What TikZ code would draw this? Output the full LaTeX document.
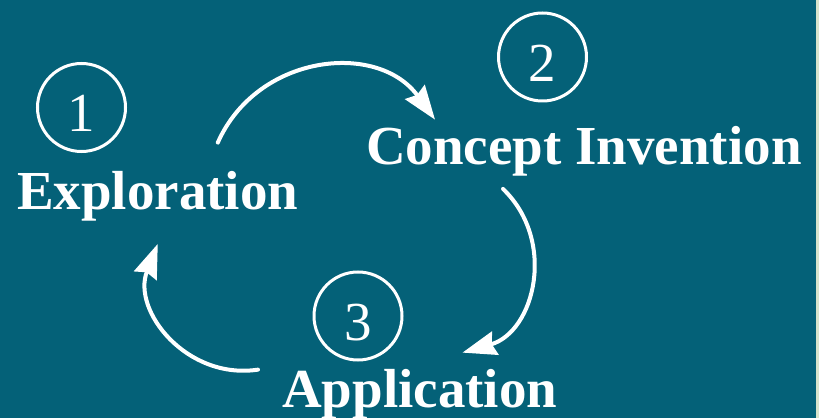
\documentclass[tikz,border=0pt]{standalone}
\usepackage{fontspec}
\setmainfont{Liberation Serif}
\usepackage{tikz}
\usetikzlibrary{arrows.meta}

\definecolor{slateteal}{RGB}{4,97,120}
\definecolor{paleedge}{RGB}{216,228,204}

\begin{document}
\begin{tikzpicture}[x=1pt, y=1pt]
    % Styles
    \tikzstyle{stage} = [text=white, font=\bfseries\fontsize{55}{60}\selectfont, inner sep=0pt, anchor=base west]
    \tikzstyle{num} = [circle, draw=white, line width=3pt, minimum size=88pt, inner sep=0pt, text=white, font=\fontsize{55}{60}\selectfont, text height=49pt, text depth=0pt]
    \tikzstyle{loopline} = [draw=white, line width=4pt, line cap=round, -{Stealth[length=34pt, width=24pt, inset=3.5pt]}, bend left=60, looseness=1.14]

    % --- BACKGROUND ---
    \fill[paleedge] (0,0) rectangle (819,418);
    \fill[slateteal] (0,0) rectangle (816,418);
    \useasboundingbox (0,0) rectangle (819,418);

    % --- STAGES ---
    \node [stage] (expl) at (17,208) {Exploration};
    \node [stage] (concept) at (366,253) {Concept Invention};
    \node [stage] (appl) at (282,11) {Application};

    % --- NUMBERS ---
    \node [num] (n1) at (81.5,310.5) {1};
    \node [num] (n2) at (542.5,361) {2};
    \node [num] (n3) at (358,102) {3};

    % --- CYCLE ---
    \draw [loopline] ([xshift=60pt, yshift=29pt]expl.north) to ([xshift=69pt, yshift=7pt]concept.north west);
    \draw [loopline] ([xshift=137pt, yshift=-12pt]concept.south west) to ([xshift=-95pt, yshift=16pt]appl.north east);
    \draw [loopline] ([xshift=-24pt, yshift=-1pt]appl.north west) to ([yshift=-22pt]expl.south);

\end{tikzpicture}
\end{document}
